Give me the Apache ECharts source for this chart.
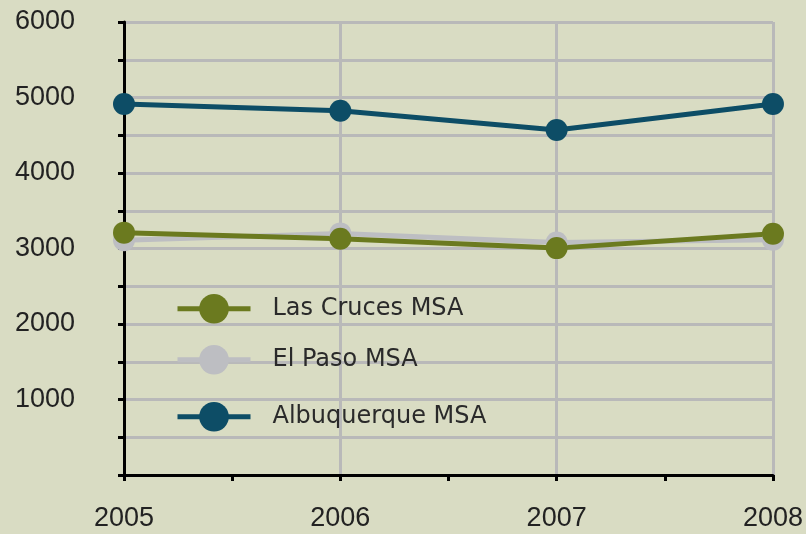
<!DOCTYPE html>
<html lang="en" style="height: 100%">
<head>
    <meta http-equiv="Content-Type" content="text/html; charset=utf-8"/>
    <title>MSA</title>
    <script type="text/javascript" src="https://cdn.jsdelivr.net/npm/echarts@6/dist/echarts.min.js"></script>
</head>
<body style="height: 100%; margin: 0; background: #d9dcc3">
<div id="container" style="width: 806px; height: 534px"></div>
<script type="text/javascript">
    // data
    var years = [2005, 2006, 2007, 2008];
    var lasCruces = [3210, 3130, 3005, 3195];
    var elPaso = [3110, 3200, 3080, 3115];
    var albuquerque = [4915, 4825, 4570, 4915];
    var yTicks = [0, 1000, 2000, 3000, 4000, 5000, 6000];

    var names = ['Las Cruces MSA', 'El Paso MSA', 'Albuquerque MSA'];
    var colors = ['#6b7a1f', '#bdbec2', '#0d4d66'];

    function pairs(vals) {
        return years.map(function (y, i) { return [y, vals[i]]; });
    }

    var myChart = echarts.init(document.getElementById('container'));

    // one legend per item so each row sits where it does in the picture
    var legendMid = [307, 358, 415];
    var legends = names.map(function (n, i) {
        return {
            data: [n],
            left: 175,
            top: legendMid[i] - 13,
            padding: 0,
            itemWidth: 73,
            itemHeight: 37,
            lineStyle: {width: 5},
            textStyle: {fontFamily: 'DejaVu Sans', fontSize: 24, color: '#2a2a2a', padding: [0, 0, 0, 17]}
        };
    });

    var option = {
        backgroundColor: '#d9dcc3',
        animation: false,
        legend: legends,
        grid: {left: 124, right: 32, top: 22, bottom: 59},
        xAxis: {
            type: 'value',
            min: 2005,
            max: 2008,
            interval: 1,
            axisLine: {lineStyle: {color: '#000', width: 3}},
            axisTick: {length: 6, lineStyle: {color: '#000', width: 3}},
            minorTick: {show: true, splitNumber: 2, length: 6, lineStyle: {color: '#000', width: 3}},
            axisLabel: {
                fontFamily: 'Liberation Sans', fontSize: 27, color: '#222', margin: 30,
                formatter: function (v) { return String(v); }
            },
            splitLine: {show: true, lineStyle: {color: '#b9b9b9', width: 3}}
        },
        yAxis: {
            type: 'value',
            min: yTicks[0],
            max: yTicks[yTicks.length - 1],
            interval: 1000,
            axisLine: {show: true, lineStyle: {color: '#000', width: 3}},
            axisTick: {show: true, length: 6, lineStyle: {color: '#000', width: 3}},
            minorTick: {show: true, splitNumber: 2, length: 6, lineStyle: {color: '#000', width: 3}},
            axisLabel: {
                fontFamily: 'Liberation Sans', fontSize: 27, color: '#222', margin: 49,
                showMinLabel: false,
                formatter: function (v) { return v === 0 ? '' : String(v); }
            },
            splitLine: {show: true, lineStyle: {color: '#b9b9b9', width: 3}},
            minorSplitLine: {show: true, lineStyle: {color: '#b9b9b9', width: 3}}
        },
        series: [
            {
                name: names[2], type: 'line', data: pairs(albuquerque),
                symbol: 'circle', symbolSize: 22, color: colors[2],
                lineStyle: {width: 5, color: colors[2]}, itemStyle: {color: colors[2]}
            },
            {
                name: names[1], type: 'line', data: pairs(elPaso),
                symbol: 'circle', symbolSize: 22, color: colors[1],
                lineStyle: {width: 5, color: colors[1]}, itemStyle: {color: colors[1]}
            },
            {
                name: names[0], type: 'line', data: pairs(lasCruces),
                symbol: 'circle', symbolSize: 22, color: colors[0],
                lineStyle: {width: 5, color: colors[0]}, itemStyle: {color: colors[0]}
            }
        ]
    };
    myChart.setOption(option);
</script>
</body>
</html>
